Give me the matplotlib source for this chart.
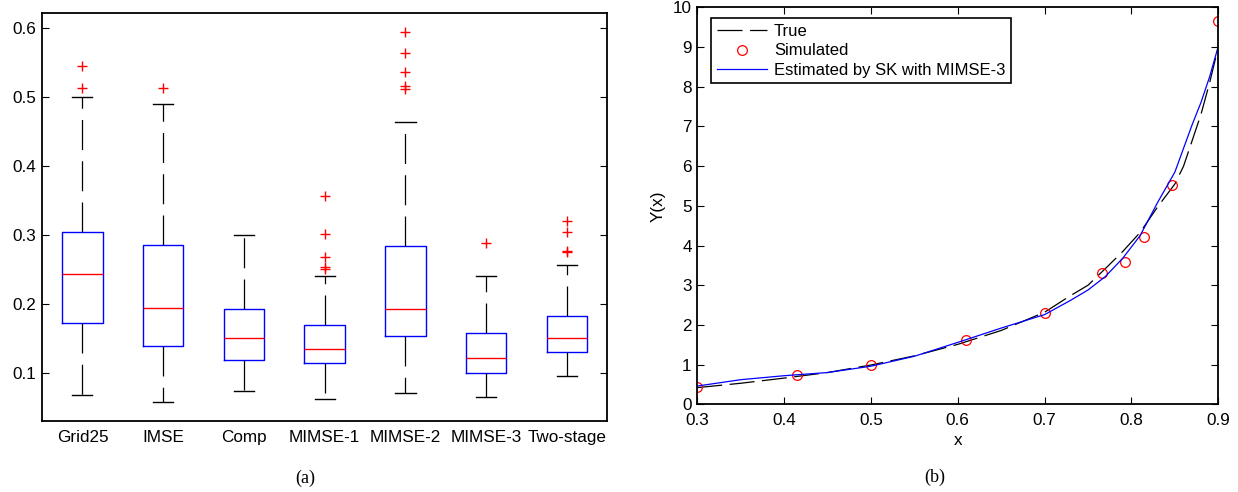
import matplotlib.pyplot as plt

plt.rcParams['font.family'] = ['Liberation Sans', 'DejaVu Sans']
plt.rcParams['font.size'] = 12.3

# (a) boxplot summary for each design
designs = ["Grid25", "IMSE", "Comp", "MIMSE-1", "MIMSE-2", "MIMSE-3", "Two-stage"]
q1 = [0.172, 0.139, 0.118, 0.114, 0.153, 0.100, 0.130]
medians = [0.243, 0.194, 0.150, 0.134, 0.192, 0.122, 0.150]
q3 = [0.304, 0.286, 0.192, 0.169, 0.284, 0.158, 0.182]
whisker_lo = [0.068, 0.058, 0.073, 0.062, 0.071, 0.064, 0.095]
whisker_hi = [0.501, 0.490, 0.300, 0.240, 0.464, 0.240, 0.257]
outliers = [
    [0.546, 0.513],
    [0.514],
    [],
    [0.357, 0.302, 0.268, 0.254, 0.251],
    [0.595, 0.564, 0.537, 0.516, 0.512],
    [0.288],
    [0.320, 0.304, 0.277, 0.275],
]

# (b) true response, simulated points and SK estimate
x_grid = [0.30, 0.35, 0.40, 0.45, 0.50, 0.55, 0.60, 0.65, 0.70, 0.73, 0.75,
          0.77, 0.79, 0.81, 0.83, 0.85, 0.86, 0.87, 0.88, 0.89, 0.90]
y_true = [0.42, 0.53, 0.66, 0.80, 0.99, 1.22, 1.51, 1.86, 2.32, 2.74, 3.00,
          3.42, 3.85, 4.33, 4.97, 5.55, 6.00, 6.65, 7.30, 8.10, 9.00]
y_sk = [0.46, 0.62, 0.72, 0.80, 0.96, 1.21, 1.56, 1.92, 2.26, 2.62, 2.88,
        3.22, 3.68, 4.25, 5.08, 5.85, 6.45, 7.05, 7.60, 8.25, 9.02]
x_sim = [0.300, 0.415, 0.500, 0.609, 0.700, 0.766, 0.793, 0.815, 0.847, 0.900]
y_sim = [0.44, 0.75, 0.98, 1.61, 2.29, 3.30, 3.58, 4.21, 5.52, 9.65]

W, H = 1238, 492
fig = plt.figure(figsize=(W / 100, H / 100), dpi=100)

# ---- (a) ----
ax1 = fig.add_axes([42 / W, 1 - 420.7 / H, 565.3 / W, 407.4 / H])
stats = []
for i, name in enumerate(designs):
    stats.append({
        "label": name,
        "med": medians[i],
        "q1": q1[i],
        "q3": q3[i],
        "whislo": whisker_lo[i],
        "whishi": whisker_hi[i],
        "fliers": outliers[i],
    })

ax1.bxp(
    stats,
    positions=range(1, len(designs) + 1),
    widths=0.5,
    boxprops=dict(color="#0000ff", linewidth=1.0),
    medianprops=dict(color="#ff0000", linewidth=1.0),
    whiskerprops=dict(color="black", linewidth=0.9, linestyle=(0, (24, 9))),
    capprops=dict(color="black", linewidth=1.0),
    flierprops=dict(marker="+", markeredgecolor="#ff0000", markersize=7,
                    markeredgewidth=1.0, linestyle="none"),
)
ax1.set_xlim(0.5, len(designs) + 0.5)
ax1.set_ylim(0.0303, 0.6218)
ax1.set_yticks([0.1, 0.2, 0.3, 0.4, 0.5, 0.6])
ax1.set_yticklabels(["0.1", "0.2", "0.3", "0.4", "0.5", "0.6"])
ax1.tick_params(axis="y", direction="in", right=True, length=5, pad=4)
ax1.tick_params(axis="x", length=0, pad=7)
for s in ax1.spines.values():
    s.set_linewidth(1.3)

# ---- (b) ----
ax2 = fig.add_axes([697.3 / W, 1 - 404.3 / H, 521 / W, 397 / H])
ax2.plot(x_grid, y_true, color="black", linewidth=0.9, linestyle=(0, (20, 6)),
         label="True")
ax2.plot(x_sim, y_sim, linestyle="none", marker="o", markersize=7,
         markerfacecolor="none", markeredgecolor="#ff0000", markeredgewidth=0.9,
         label="Simulated")
ax2.plot(x_grid, y_sk, color="#0000ff", linewidth=0.9,
         label="Estimated by SK with MIMSE-3")
ax2.set_xlim(0.3, 0.9)
ax2.set_ylim(0, 10)
ax2.set_xticks([0.3, 0.4, 0.5, 0.6, 0.7, 0.8, 0.9])
ax2.set_yticks(range(0, 11))
ax2.tick_params(direction="in", top=True, right=True, length=5, pad=4)
ax2.tick_params(axis="x", pad=6)
ax2.set_xlabel("x", labelpad=4)
ax2.set_ylabel("Y(x)", labelpad=5)
for s in ax2.spines.values():
    s.set_linewidth(1.3)

leg = ax2.legend(loc="upper left", bbox_to_anchor=(0.027, 0.972),
                 borderaxespad=0, fancybox=False, edgecolor="black",
                 framealpha=1, numpoints=1, handlelength=3.0,
                 handletextpad=0.4, labelspacing=0.25, borderpad=0.35,
                 fontsize=12)
leg.get_frame().set_linewidth(1.2)

# panel captions
fig.text(305 / W, 1 - 478 / H, "(a)", family="Liberation Serif", fontsize=13,
         ha="center", va="center")
fig.text(935 / W, 1 - 477 / H, "(b)", family="Liberation Serif", fontsize=13,
         ha="center", va="center")

fig.savefig("out.png", dpi=100)
